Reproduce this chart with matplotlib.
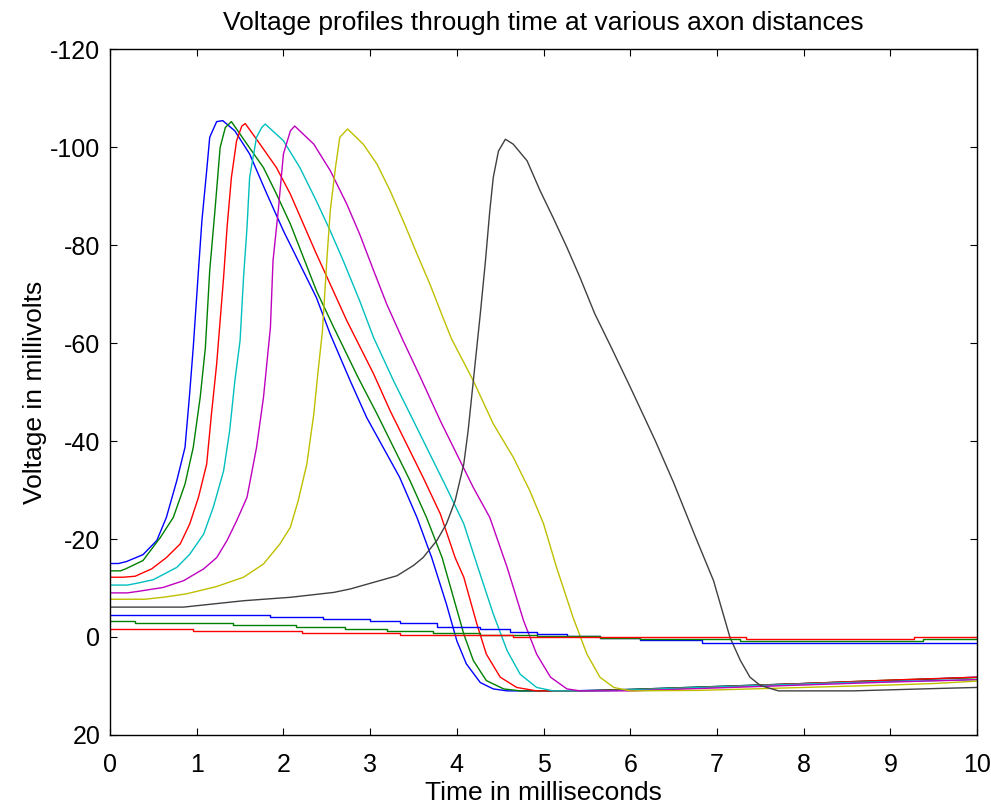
import matplotlib
matplotlib.use("Agg")
import matplotlib.pyplot as plt

plt.rcParams['font.family'] = ['Liberation Sans', 'DejaVu Sans']
plt.rcParams['axes.unicode_minus'] = False

# curves (time in ms, voltage in mV)
t_blue = [0, 0.10, 0.19, 0.38, 0.54, 0.65, 0.77, 0.865, 0.915, 0.96, 1.02, 1.06, 1.115, 1.15, 1.23, 1.30,
          1.44, 1.61, 1.81, 2.0, 2.19, 2.38, 2.54, 2.77, 2.96, 3.15, 3.34, 3.54, 3.71, 3.88, 4.0, 4.11,
          4.27, 4.42, 4.58, 5.3, 6.0, 7.0, 8.0, 9.0, 10.0]
v_blue = [-15.0, -15.0, -15.4, -16.8, -19.7, -24.4, -31.9, -38.7, -48.9, -59.1, -74.8, -85.0, -95.2, -102.0, -105.2, -105.4,
          -103.3, -98.6, -90.4, -82.9, -76.1, -69.3, -61.8, -52.3, -44.8, -38.7, -32.6, -24.4, -16.2, -6.7, 0.8, 5.5,
          9.3, 10.6, 11.0, 11.0, 10.7, 10.1, 9.5, 8.9, 8.2]

t_green = [0, 0.12, 0.18, 0.38, 0.58, 0.73, 0.865, 0.96, 1.04, 1.10, 1.15, 1.21, 1.27, 1.33, 1.40,
           1.58, 1.77, 1.92, 2.08, 2.23, 2.38, 2.58, 2.86, 3.08, 3.27, 3.46, 3.65, 3.83, 3.96, 4.08,
           4.19, 4.34, 4.54, 4.73, 5.4, 6.0, 7.0, 8.0, 9.0, 10.0]
v_green = [-13.5, -13.5, -13.9, -15.6, -20.3, -24.4, -31.2, -38.7, -48.9, -59.1, -74.8, -87.0, -99.9, -104.0, -105.2,
           -100.6, -95.8, -90.4, -84.3, -77.5, -70.7, -63.2, -53.0, -45.5, -38.7, -31.9, -24.4, -16.2, -8.1, -0.6,
           4.8, 8.9, 10.6, 11.0, 11.0, 10.7, 10.1, 9.5, 8.8, 8.3]

t_red = [0, 0.15, 0.29, 0.48, 0.65, 0.81, 0.92, 1.02, 1.115, 1.17, 1.23, 1.31, 1.35, 1.40, 1.46, 1.52, 1.56,
         1.73, 1.92, 2.08, 2.23, 2.38, 2.54, 2.73, 3.04, 3.23, 3.42, 3.61, 3.81, 3.98, 4.08, 4.23, 4.34,
         4.50, 4.69, 4.92, 5.5, 6.0, 7.0, 8.0, 9.0, 10.0]
v_red = [-12.2, -12.2, -12.4, -13.9, -16.2, -19.0, -23.1, -28.5, -35.3, -45.5, -55.7, -73.4, -83.6, -93.8, -101.3, -104.3, -104.8,
         -100.6, -95.8, -90.4, -84.3, -78.2, -72.0, -64.6, -53.7, -46.2, -39.4, -32.6, -25.1, -16.2, -12.2, -2.7, 3.5,
         8.2, 10.3, 11.0, 11.0, 10.8, 10.2, 9.5, 8.8, 8.2]

t_cyan = [0, 0.2, 0.32, 0.50, 0.77, 0.92, 1.08, 1.19, 1.31, 1.38, 1.44, 1.50, 1.54, 1.58, 1.61, 1.69, 1.75, 1.79,
          2.0, 2.19, 2.38, 2.54, 2.69, 2.88, 3.04, 3.27, 3.50, 3.69, 3.88, 4.08, 4.23, 4.42, 4.58, 4.73,
          4.92, 5.11, 5.7, 6.5, 7.5, 8.5, 9.5, 10.0]
v_cyan = [-10.6, -10.6, -11.0, -11.7, -14.2, -16.9, -21.0, -26.4, -33.9, -42.1, -52.3, -60.5, -73.4, -83.6, -93.8, -102.0, -104.0, -104.7,
          -101.3, -95.8, -89.0, -82.9, -76.8, -68.6, -61.1, -52.3, -44.1, -37.3, -30.5, -23.1, -14.9, -4.7, 2.8, 7.6,
          10.3, 11.0, 11.0, 10.5, 9.9, 9.3, 8.9, 8.7]

t_magenta = [0, 0.2, 0.32, 0.61, 0.85, 1.08, 1.23, 1.35, 1.46, 1.58, 1.69, 1.77, 1.85, 1.88, 1.94, 2.0, 2.08, 2.13,
             2.35, 2.54, 2.73, 2.88, 3.04, 3.19, 3.38, 3.58, 3.81, 4.0, 4.19, 4.38, 4.58, 4.77, 4.92, 5.08,
             5.27, 5.42, 6.0, 7.0, 8.0, 9.0, 10.0]
v_magenta = [-9.0, -9.0, -9.3, -10.1, -11.5, -13.9, -16.2, -19.7, -23.7, -28.5, -38.7, -48.9, -63.2, -76.8, -87.0, -98.6, -103.3, -104.3,
             -100.6, -95.2, -88.4, -82.2, -74.8, -68.0, -60.5, -53.0, -44.1, -37.3, -30.5, -24.4, -14.2, -3.3, 3.5, 8.2,
             10.6, 11.0, 11.0, 10.4, 9.8, 9.2, 8.7]

t_yellow = [0, 0.4, 0.61, 0.88, 1.23, 1.54, 1.77, 1.96, 2.08, 2.17, 2.27, 2.35, 2.40, 2.45, 2.50, 2.54, 2.60, 2.65, 2.74,
            2.92, 3.08, 3.23, 3.38, 3.54, 3.69, 3.84, 3.94, 4.19, 4.42, 4.65, 4.84, 5.0, 5.15, 5.34, 5.50, 5.65,
            5.81, 6.0, 6.8, 8.0, 9.0, 9.5, 10.0]
v_yellow = [-7.7, -7.7, -8.1, -8.8, -10.3, -12.2, -14.9, -19.0, -22.4, -27.8, -35.3, -45.5, -54.3, -62.5, -76.8, -87.0, -95.8, -102.0, -103.7,
            -100.6, -96.5, -91.1, -85.0, -78.2, -72.0, -65.2, -60.8, -52.3, -43.5, -36.7, -29.9, -23.1, -14.2, -4.0, 3.5, 8.2,
            10.3, 11.0, 10.9, 10.3, 9.8, 9.5, 9.0]

t_black = [0, 0.85, 1.54, 2.08, 2.58, 2.77, 3.11, 3.31, 3.50, 3.61, 3.77, 3.88, 3.98, 4.08, 4.13, 4.17, 4.21, 4.25,
           4.27, 4.33, 4.38, 4.42, 4.48, 4.56, 4.65, 4.81, 4.96, 5.11, 5.27, 5.42, 5.59, 5.77, 6.0, 6.29, 6.5, 6.75, 6.96,
           7.15, 7.27, 7.38, 7.5, 7.71, 8.57, 9.57, 10.0]
v_black = [-6.1, -6.1, -7.4, -8.1, -9.1, -9.8, -11.5, -12.5, -14.6, -16.2, -19.7, -23.1, -27.8, -35.3, -42.1, -48.9, -55.7, -62.5,
           -65.9, -76.8, -87.0, -93.8, -99.2, -101.6, -100.6, -97.2, -91.1, -85.6, -79.5, -73.4, -66.0, -59.5, -51.0, -40.0, -31.5, -20.5, -11.5,
           0.1, 4.8, 8.2, 9.9, 11.0, 11.0, 10.5, 10.3]

# slow curves near zero (stepwise)
t_blue2 = [0, 1.85, 2.46, 3.0, 3.34, 3.77, 4.27, 4.61, 4.92, 5.27, 5.65, 6.11, 6.83, 10.0]
v_blue2 = [-4.5, -4.1, -3.7, -3.3, -2.85, -2.1, -1.6, -1.1, -0.6, -0.1, 0.3, 0.7, 1.2, 1.2]
t_green2 = [0, 0.29, 1.42, 2.15, 2.71, 3.2, 3.73, 4.27, 4.92, 5.65, 6.11, 7.27, 9.38, 10.0]
v_green2 = [-3.3, -2.85, -2.45, -2.0, -1.6, -1.3, -0.8, -0.45, -0.1, 0.3, 0.4, 0.8, 0.4, 0.4]
t_red2 = [0, 0.96, 2.21, 3.34, 4.65, 7.34, 9.27, 10.0]
v_red2 = [-1.6, -1.2, -0.8, -0.4, 0.0, 0.5, 0.1, 0.1]

mb = (0, 0, 1)
mg = (0, 0.5, 0)
mr = (1, 0, 0)
mc = (0, 0.75, 0.75)
mm = (0.75, 0, 0.75)
my = (0.75, 0.75, 0)
mk = (0.25, 0.25, 0.25)

fig = plt.figure(figsize=(9.91, 8.05), dpi=100)
ax = fig.add_axes([0.111, 0.087, 0.875, 0.852])

lw = 1.0
ax.plot(t_blue, v_blue, color=mb, lw=lw)
ax.plot(t_green, v_green, color=mg, lw=lw)
ax.plot(t_red, v_red, color=mr, lw=lw)
ax.plot(t_cyan, v_cyan, color=mc, lw=lw)
ax.plot(t_magenta, v_magenta, color=mm, lw=lw)
ax.plot(t_yellow, v_yellow, color=my, lw=lw)
ax.plot(t_black, v_black, color=mk, lw=lw)
ax.plot(t_blue2, v_blue2, color=mb, lw=lw, drawstyle='steps-post')
ax.plot(t_green2, v_green2, color=mg, lw=lw, drawstyle='steps-post')
ax.plot(t_red2, v_red2, color=mr, lw=lw, drawstyle='steps-post')

ax.set_xlim(0, 10)
ax.set_ylim(20, -120)
ax.set_xticks(range(0, 11))
ax.set_yticks(range(-120, 21, 20))
ax.tick_params(direction='in', top=True, right=True, length=5, width=0.8, labelsize=18)
ax.tick_params(axis='x', pad=13)
ax.tick_params(axis='y', pad=7)
for s in ax.spines.values():
    s.set_linewidth(1.0)

ax.set_title('Voltage profiles through time at various axon distances', fontsize=19, pad=14)
ax.set_xlabel('Time in milliseconds', fontsize=19, labelpad=3)
ax.set_ylabel('Voltage in millivolts', fontsize=19, labelpad=2)

fig.savefig('out.png', dpi=100)
